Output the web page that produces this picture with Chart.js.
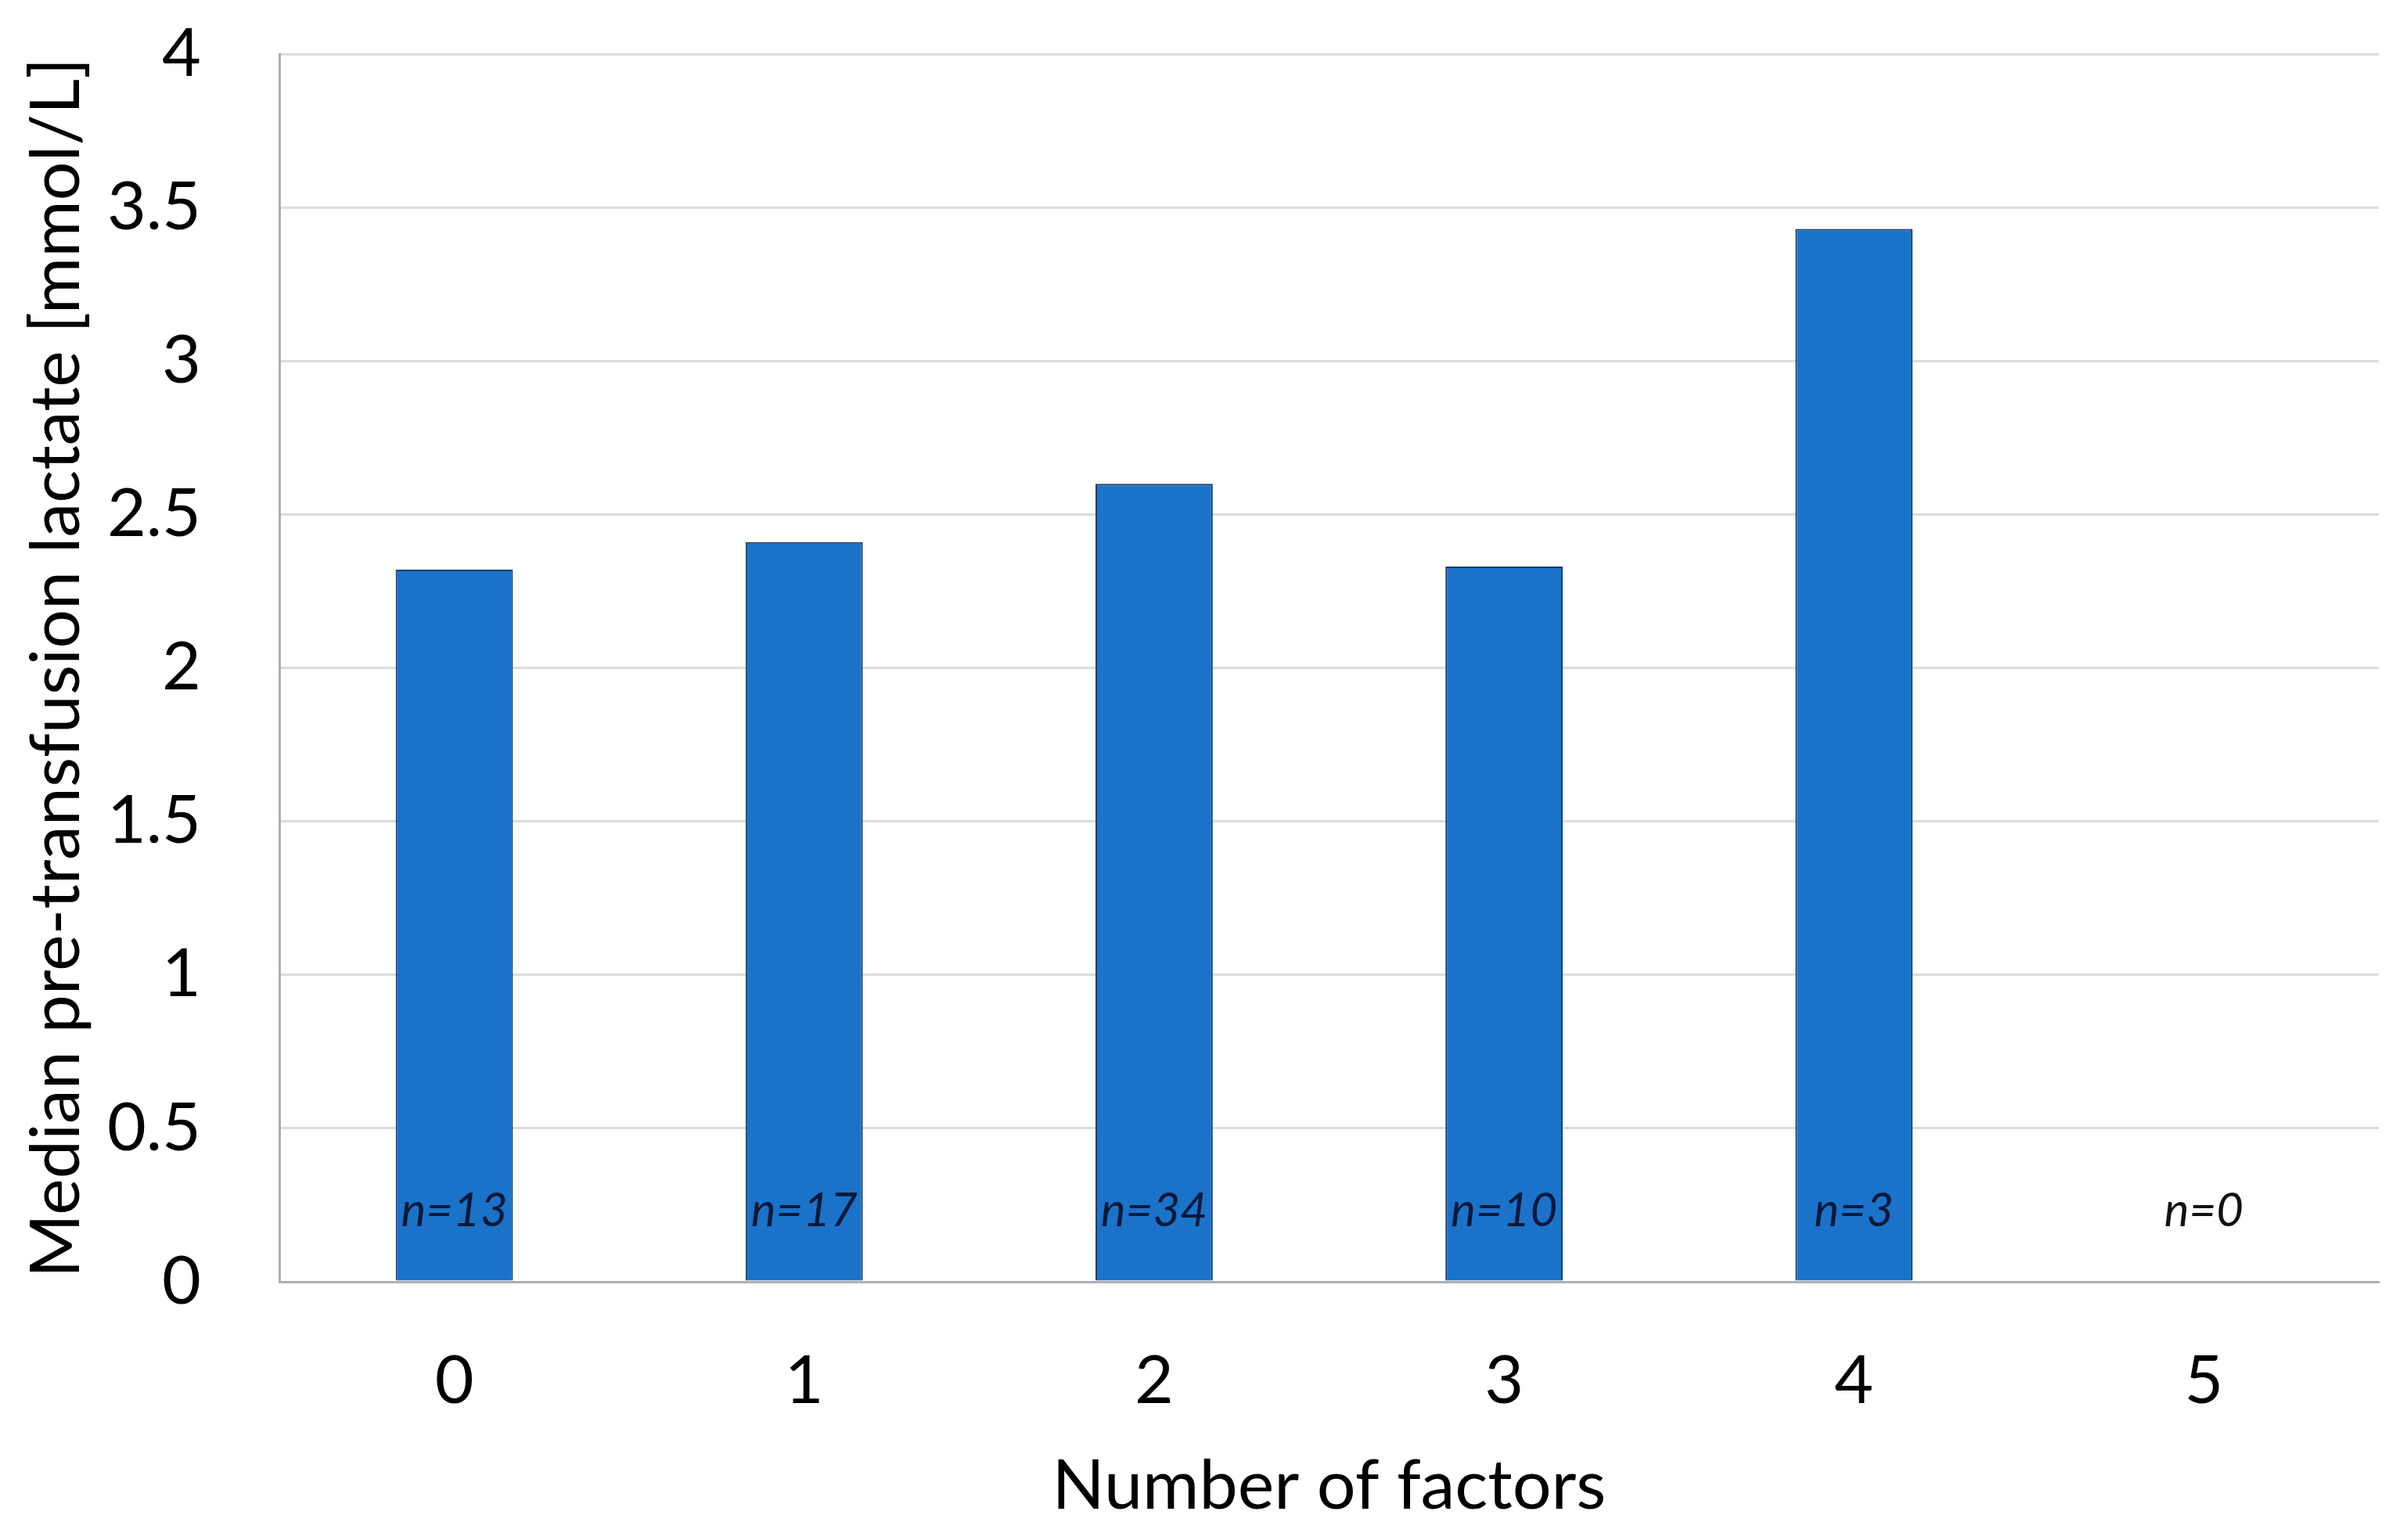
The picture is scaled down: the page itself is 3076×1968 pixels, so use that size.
<!DOCTYPE html>
<html>
<head>
<meta charset="utf-8">
<script src="https://cdn.jsdelivr.net/npm/chart.js@4.4.1/dist/chart.umd.min.js"></script>
<style>
html,body{margin:0;padding:0;background:#fff;}
#wrap{width:3076px;height:1968px;position:relative;}
</style>
</head>
<body>
<div id="wrap"><canvas id="c" width="3076" height="1968"></canvas></div>
<script>
const categories = ['0', '1', '2', '3', '4', '5'];
const medianLactate = [2.32, 2.41, 2.60, 2.33, 3.43, 0];
const nLabels = ['n=13', 'n=17', 'n=34', 'n=10', 'n=3', 'n=0'];
const yTicks = [0, 0.5, 1, 1.5, 2, 2.5, 3, 3.5, 4];

const FONT = 'Lato, "Open Sans", sans-serif';

const nLabelPlugin = {
  id: 'nLabels',
  afterDatasetsDraw(chart) {
    const ctx = chart.ctx;
    const xs = chart.scales.x, ys = chart.scales.y;
    ctx.save();
    ctx.font = 'italic 60px ' + FONT;
    ctx.textAlign = 'center';
    ctx.textBaseline = 'middle';
    nLabels.forEach((t, i) => {
      ctx.fillStyle = medianLactate[i] > 0 ? '#0b1838' : '#111111';
      ctx.fillText(t, xs.getPixelForValue(i), ys.getPixelForValue(0.23));
    });
    ctx.restore();
  }
};

new Chart(document.getElementById('c'), {
  type: 'bar',
  data: {
    labels: categories,
    datasets: [{
      data: medianLactate,
      backgroundColor: '#1a73c9',
      borderColor: '#1f3b66',
      borderWidth: 2,
      borderSkipped: 'bottom',
      barPercentage: 0.335,
      categoryPercentage: 1.0
    }]
  },
  options: {
    responsive: false,
    animation: false,
    devicePixelRatio: 1,
    layout: { padding: { top: 69, right: 36, left: 0, bottom: 0 } },
    plugins: { legend: { display: false }, tooltip: { enabled: false } },
    scales: {
      x: {
        grid: { display: false, drawTicks: false },
        border: { display: true, color: '#b0b0b0', width: 3 },
        ticks: { color: '#000', font: { family: FONT, size: 86 }, padding: 76 },
        title: { display: true, text: 'Number of factors', color: '#000',
                 font: { family: FONT, size: 88 }, padding: { top: 0, bottom: 16 } },
        afterFit(s) { s.height = 330; s.paddingLeft = 0; s.paddingRight = 0; }
      },
      y: {
        min: 0, max: 4,
        afterBuildTicks(s) { s.ticks = yTicks.map(v => ({ value: v })); },
        grid: { color: '#dcdcdc', lineWidth: 3, drawTicks: false },
        border: { display: true, color: '#b0b0b0', width: 3 },
        ticks: { color: '#000', font: { family: FONT, size: 86 }, padding: 100,
                 callback: v => String(v) },
        title: { display: true, text: 'Median pre-transfusion lactate [mmol/L]', color: '#000',
                 font: { family: FONT, size: 88 }, padding: { top: 20, bottom: 0 } },
        afterFit(s) { s.width = 357; s.paddingTop = 0; s.paddingBottom = 0; }
      }
    }
  },
  plugins: [nLabelPlugin]
});
</script>
</body>
</html>
